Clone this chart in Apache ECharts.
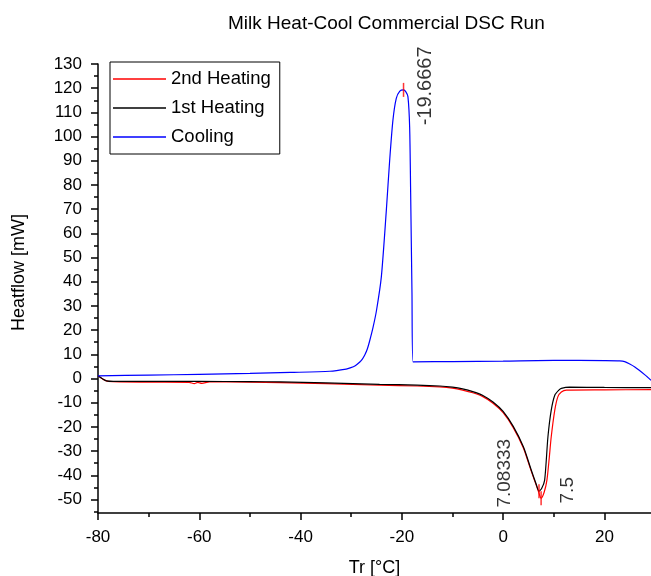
<!DOCTYPE html>
<html>
<head>
<meta charset="utf-8">
<script src="https://cdn.jsdelivr.net/npm/echarts@6/dist/echarts.min.js"></script>
<style>
  html, body { margin: 0; padding: 0; background: #fff; }
  #chart { width: 651px; height: 576px; }
</style>
</head>
<body>
<div id="chart"></div>
<script>
// Cooling run (blue)
const coolT = [-80, -70, -60, -50, -42, -34.2, -31, -30.2, -29.2, -28.3, -27.8, -27.3, -26.8, -26.36, -25.7, -25.0, -24.05, -23.06, -22.4, -21.76, -21.1, -20.4, -19.6667, -19.2, -18.8, -18.46, -18.26, -18.0, -17.8, -10, 0, 10, 20, 23, 24, 25, 26, 27, 28, 29.2];
const coolH = [1.1, 1.4, 1.7, 2.1, 2.5, 3.0, 3.9, 4.4, 5.3, 6.8, 8.0, 9.8, 12.3, 15.5, 21, 28.2, 42, 69.6, 90.3, 106.8, 115.8, 118.8, 119.3, 118.5, 116.5, 104, 76.6, 35.3, 6.9, 7.0, 7.2, 7.5, 7.4, 7.3, 7.0, 6.0, 4.8, 3.2, 1.5, -0.7];

// 1st heating run (black)
const heat1T = [-80, -79.2, -78.3, -77, -70, -60, -50, -44, -35, -24.4, -17, -12.5, -10, -8, -6, -4, -2, 0, 2, 4, 5.5, 6.5, 7.08333, 7.6, 8.2, 8.85, 9.5, 10.2, 11.0, 11.5, 13.1, 20, 29.2];
const heat1H = [1.1, 0.0, -1.0, -1.2, -1.2, -1.2, -1.3, -1.4, -1.8, -2.4, -2.7, -3.1, -3.6, -4.3, -5.4, -7.0, -9.7, -13.6, -19.8, -28.2, -37.5, -43.5, -46.6, -45.5, -42, -24.1, -13.1, -6.9, -4.8, -4.1, -3.6, -3.7, -3.8];

// 2nd heating run (red)
const heat2T = [-80, -79, -78, -70, -62, -61, -60.3, -59.5, -58, -50, -44, -35, -24.4, -17, -12.5, -10, -8, -6, -4, -2, 0, 2, 4, 5.5, 6.87, 7.5, 8.1, 8.65, 9.1, 9.5, 10.2, 10.8, 11.5, 12.5, 20, 29.2];
const heat2H = [1.1, -0.3, -1.2, -1.5, -1.6, -2.1, -1.6, -2.0, -1.4, -1.5, -1.7, -2.1, -2.8, -3.1, -3.5, -4.0, -4.8, -5.9, -7.5, -10.2, -14.1, -20.3, -28.7, -38, -46, -49.5, -47, -42, -33, -24.1, -13.1, -7.6, -5.6, -4.8, -4.7, -4.6];

// Peak picks: temperature, heat flow, label text
const peakT = [-19.6667, 7.08333, 7.5];
const peakH = [119.3, -46.6, -49.5];
const peakLabels = ['-19.6667', '7.08333', '7.5'];

// Tick values
const yMajorTicks = [-50, -40, -30, -20, -10, 0, 10, 20, 30, 40, 50, 60, 70, 80, 90, 100, 110, 120, 130];
const yMinorTicks = [-55, -45, -35, -25, -15, -5, 5, 15, 25, 35, 45, 55, 65, 75, 85, 95, 105, 115, 125];
const xMajorTicks = [-80, -60, -40, -20, 0, 20];
const xMinorTicks = [-70, -50, -30, -10, 10];

const seriesNames = ['2nd Heating', '1st Heating', 'Cooling'];

const FONT = '"Liberation Sans", Arial, Helvetica, sans-serif';
const X_MIN = -80, X_MAX = 29.2, Y_MIN = -55.6, Y_MAX = 130;

const zip = (xs, ys) => xs.map((x, i) => [x, ys[i]]);

// Peak label placement (rotated text frame: [along text, across text])
const labelOffsets = [[4, 22], [18, -34], [8, 27]];
const labelSizes = [20, 19, 19];

const chart = echarts.init(document.getElementById('chart'), null, { renderer: 'canvas' });

const axisLineStyle = { color: '#000', width: 1.5 };

chart.setOption({
  animation: false,
  backgroundColor: '#fff',
  title: {
    text: 'Milk Heat-Cool Commercial DSC Run',
    left: 223,
    top: 9,
    textStyle: { fontFamily: FONT, fontSize: 19, fontWeight: 'normal', color: '#000' }
  },
  legend: {
    data: seriesNames,
    orient: 'vertical',
    left: 110,
    top: 62,
    padding: [7, 9, 7, 3],
    icon: 'rect',
    itemWidth: 53,
    itemHeight: 1.3,
    itemGap: 9,
    borderColor: '#000',
    borderWidth: 1,
    textStyle: { fontFamily: FONT, fontSize: 18.5, color: '#000', lineHeight: 20, height: 20 }
  },
  grid: { left: 98, right: 0, top: 64, bottom: 63, containLabel: false, outerBoundsMode: 'none' },
  xAxis: [
    {
      type: 'value', min: X_MIN, max: X_MAX, position: 'bottom',
      name: 'Tr [°C]', nameLocation: 'middle', nameGap: 46,
      nameTextStyle: { fontFamily: FONT, fontSize: 18, color: '#000' },
      axisLine: { show: true, lineStyle: axisLineStyle, onZero: false },
      axisTick: { show: true, inside: false, length: 7, lineStyle: axisLineStyle, customValues: xMajorTicks },
      axisLabel: { customValues: xMajorTicks, margin: 16, fontFamily: FONT, fontSize: 17, color: '#000' },
      splitLine: { show: false }
    },
    {
      type: 'value', min: X_MIN, max: X_MAX, position: 'bottom',
      axisLine: { show: false, onZero: false },
      axisTick: { show: true, inside: false, length: 4, lineStyle: axisLineStyle, customValues: xMinorTicks },
      axisLabel: { show: false },
      splitLine: { show: false }
    }
  ],
  yAxis: [
    {
      type: 'value', min: Y_MIN, max: Y_MAX, position: 'left',
      name: 'Heatflow [mW]', nameLocation: 'middle', nameGap: 70, nameRotate: 90,
      nameTextStyle: { fontFamily: FONT, fontSize: 18, color: '#000', padding: [0, 0, 0, 32] },
      axisLine: { show: true, lineStyle: axisLineStyle, onZero: false },
      axisTick: { show: true, inside: false, length: 7, lineStyle: axisLineStyle, customValues: yMajorTicks },
      axisLabel: { customValues: yMajorTicks, margin: 16, fontFamily: FONT, fontSize: 17, color: '#000' },
      splitLine: { show: false }
    },
    {
      type: 'value', min: Y_MIN, max: Y_MAX, position: 'left',
      axisLine: { show: false, onZero: false },
      axisTick: { show: true, inside: false, length: 4, lineStyle: axisLineStyle, customValues: yMinorTicks },
      axisLabel: { show: false },
      splitLine: { show: false }
    }
  ],
  series: [
    {
      name: '2nd Heating', type: 'line', data: zip(heat2T, heat2H),
      symbol: 'none', smooth: 0.25,
      lineStyle: { color: '#ff0000', width: 1.2 }, itemStyle: { color: '#ff0000' }, z: 2
    },
    {
      name: '1st Heating', type: 'line', data: zip(heat1T, heat1H),
      symbol: 'none', smooth: 0.25,
      lineStyle: { color: '#000000', width: 1.2 }, itemStyle: { color: '#000000' }, z: 3
    },
    {
      name: 'Cooling', type: 'line', data: zip(coolT, coolH),
      symbol: 'none', smooth: 0.25,
      lineStyle: { color: '#0000ff', width: 1.2 }, itemStyle: { color: '#0000ff' }, z: 4
    },
    {
      name: 'peaks', type: 'scatter', z: 5,
      symbol: 'rect', symbolSize: [1.5, 14],
      itemStyle: { color: '#ff0000' },
      data: peakT.map((t, i) => ({
        value: [t, peakH[i]],
        label: {
          show: true, formatter: peakLabels[i], position: 'inside', rotate: 90,
          align: 'center', verticalAlign: 'middle', offset: labelOffsets[i],
          fontFamily: FONT, fontSize: labelSizes[i], color: '#000'
        }
      }))
    }
  ]
});
</script>
</body>
</html>
